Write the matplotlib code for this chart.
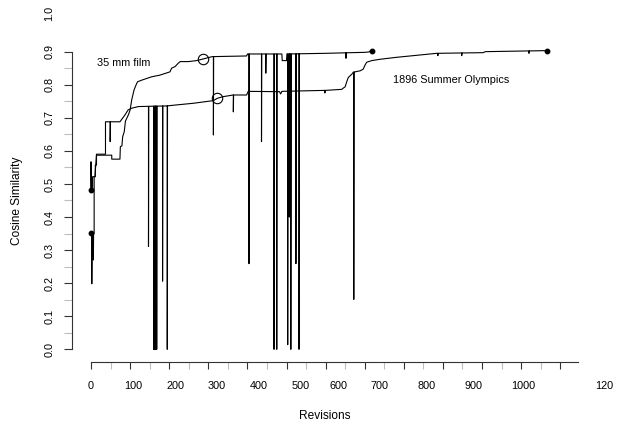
import numpy as np
import matplotlib.pyplot as plt

plt.rcParams['font.family'] = ['Liberation Sans', 'DejaVu Sans']

# 35 mm film: revision vs cosine similarity to the final version
film_rev = [0, 8, 8, 11, 11, 14, 14, 53, 53, 74, 75, 79, 81, 85, 88, 92, 96, 100,
            104, 107, 110, 115, 119, 130, 155, 176, 202, 206, 215, 223, 228, 249,
            270, 287, 300, 310, 398, 400, 488, 489, 500, 501, 600, 700, 710, 718]
film_sim = [0.351, 0.351, 0.522, 0.522, 0.557, 0.557, 0.587, 0.587, 0.575, 0.575,
            0.613, 0.615, 0.643, 0.658, 0.690, 0.700, 0.710, 0.724, 0.754, 0.769,
            0.784, 0.799, 0.809, 0.814, 0.824, 0.829, 0.839, 0.850, 0.855, 0.865,
            0.870, 0.870, 0.873, 0.878, 0.882, 0.885, 0.887, 0.893, 0.893, 0.873,
            0.873, 0.893, 0.895, 0.898, 0.899, 0.903]
# short-lived drops (vandalism / reverts)
film_drop_rev = [2, 6, 313, 404, 436, 447, 468, 475, 503, 507, 511, 524, 532, 652]
film_drop_sim = [0.198, 0.27, 0.648, 0.259, 0.628, 0.835, 0.0, 0.0, 0.014, 0.40,
                 0.0, 0.259, 0.0, 0.88]

# 1896 Summer Olympics
olym_rev = [0, 4, 4, 10, 14, 37, 37, 74, 87, 95, 104, 121, 194, 219, 262, 313, 323,
            338, 364, 398, 402, 482, 485, 488, 600, 641, 650, 654, 658, 667, 671,
            688, 696, 701, 705, 718, 739, 782, 884, 1003, 1008, 1157, 1165]
olym_sim = [0.482, 0.482, 0.522, 0.522, 0.590, 0.590, 0.688, 0.688, 0.709, 0.724,
            0.729, 0.734, 0.736, 0.739, 0.744, 0.752, 0.759, 0.764, 0.769, 0.769,
            0.780, 0.779, 0.772, 0.780, 0.783, 0.786, 0.794, 0.809, 0.822, 0.832,
            0.838, 0.842, 0.847, 0.860, 0.868, 0.873, 0.877, 0.883, 0.895, 0.897,
            0.900, 0.903, 0.903]
olym_drop_rev = [0, 49, 147, 160, 162, 164, 166, 168, 183, 195, 364, 598, 672, 887, 948, 1120]
olym_drop_sim = [0.567, 0.628, 0.311, 0.0, 0.0, 0.0, 0.0, 0.0, 0.206, 0.0, 0.718,
                 0.775, 0.151, 0.888, 0.888, 0.895]

# revisions marked with an open circle
film_mark = 287
olym_mark = 323

ytick_vals = [0.0, 0.1, 0.2, 0.3, 0.4, 0.5, 0.6, 0.7, 0.8, 0.9]
xtick_vals = list(range(0, 1300, 100))
xlab_text = ['0', '100', '200', '300', '400', '500', '600', '700', '800', '900', '1000', '120']
xlab_at = [0, 107, 216, 321, 430, 535, 634, 737, 858, 977, 1106, 1312]


def with_drops(rev, sim, d_rev, d_sim):
    xs, ys = list(rev), list(sim)
    for r, lo in zip(d_rev, d_sim):
        i = int(np.searchsorted(xs, r, side='right'))
        xs[i:i] = [r, r, r + 0.6]
        ys[i:i] = [np.interp(r, rev, sim), lo, np.interp(r + 0.6, rev, sim)]
    return xs, ys


fig = plt.figure(figsize=(6.2, 4.24), dpi=100)
ax = fig.add_axes([71.7 / 620, 62 / 424, 512 / 620, 343.4 / 424])
ax.set_xlim(-49.4, 1260)
ax.set_ylim(-0.0384, 1.0)

for rev, sim, d_rev, d_sim, mark in [(film_rev, film_sim, film_drop_rev, film_drop_sim, film_mark),
                                     (olym_rev, olym_sim, olym_drop_rev, olym_drop_sim, olym_mark)]:
    xs, ys = with_drops(rev, sim, d_rev, d_sim)
    ax.plot(xs, ys, color='black', lw=0.8)
    ax.plot([rev[0], rev[-1]], [sim[0], sim[-1]], 'o', color='black', ms=3.2)
    ax.plot(mark, np.interp(mark, rev, sim), 'o', mfc='none', mec='black', ms=7.5, mew=0.8)

ax.text(15, 0.866, '35 mm film', ha='left', va='center', fontsize=7.8)
ax.text(773, 0.814, '1896 Summer Olympics', ha='left', va='center', fontsize=7.8)

for s in ['top', 'right']:
    ax.spines[s].set_visible(False)
ax.spines['left'].set_bounds(0, 0.9)
ax.spines['bottom'].set_bounds(0, 1245)
for s in ['left', 'bottom']:
    ax.spines[s].set_color('#333333')
    ax.spines[s].set_linewidth(0.8)

ax.set_xticks(xtick_vals)
ax.set_xticklabels([])
ax.set_xticks(np.arange(50, 1200, 100), minor=True)
ax.set_yticks(ytick_vals)
ax.set_yticklabels(['%.1f' % v for v in ytick_vals])
ax.set_yticks(np.arange(0.05, 0.9, 0.1), minor=True)
ax.tick_params(axis='x', which='both', length=4.7, width=0.8)
ax.tick_params(axis='y', which='both', length=6, width=0.8, labelrotation=90,
               pad=6, labelsize=7.8)
ax.tick_params(which='major', color='#333333')
ax.tick_params(which='minor', color='#bebebe')
plt.setp(ax.get_yticklabels(), va='center')

for t, x in zip(xlab_text, xlab_at):
    ax.text(x, -0.0783, t, transform=ax.get_xaxis_transform(), ha='center',
            va='baseline', fontsize=7.8)
fig.text(49 / 620, 1 - 13.3 / 424, '1.0', rotation=90, ha='center', va='center', fontsize=7.8)

fig.text(325 / 620, 1 - 416 / 424, 'Revisions', ha='center', va='center', fontsize=8.6)
fig.text(17.5 / 620, 1 - 201 / 424, 'Cosine Similarity', rotation=90, ha='center',
         va='center', fontsize=8.6)

fig.savefig('out.png', dpi=100)
